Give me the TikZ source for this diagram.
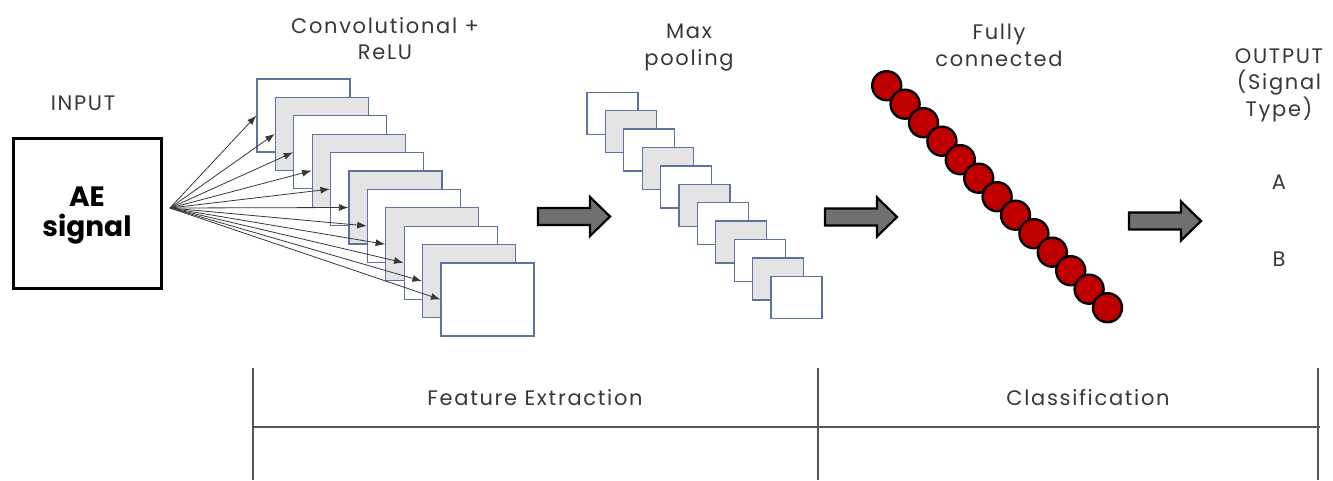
\documentclass[tikz,border=0pt]{standalone}
\usepackage{fontspec}
\setmainfont{Poppins}
\newfontfamily\lblfont[LetterSpace=8]{Poppins}
\usetikzlibrary{arrows.meta}
\definecolor{txtgray}{HTML}{383838}
\definecolor{mapedge}{HTML}{5F729E}
\definecolor{mapfill}{HTML}{E4E4E4}
\definecolor{neuronred}{HTML}{C00000}
\definecolor{arrowgray}{HTML}{707070}
\definecolor{tablegray}{HTML}{555555}
\tikzset{
  lbl/.style={font=\lblfont\fontsize{21}{26.5}\selectfont, text=txtgray, align=center, inner sep=0pt},
  inbox/.style={draw=black, line width=3pt, minimum width=148pt, minimum height=150pt, inner sep=0pt},
  aetext/.style={align=center, inner sep=0pt, font=\fontsize{28}{30}\selectfont\bfseries, text=black},
  convmap/.style={draw=mapedge, line width=1.3pt, minimum width=93pt, minimum height=73pt, inner sep=0pt},
  poolmap/.style={draw=mapedge, line width=1.3pt, minimum width=51pt, minimum height=42pt, inner sep=0pt},
  whitemap/.style={fill=white},
  graymap/.style={fill=mapfill},
  neuron/.style={circle, draw=black, line width=2.4pt, fill=neuronred, minimum size=29pt, inner sep=0pt},
  fanarrow/.style={draw=txtgray, line width=0.8pt, -{Latex[length=9.5pt,width=7pt]}},
  bigarrow/.style={draw=black, line width=2.2pt, fill=arrowgray, line join=miter},
  tableline/.style={draw=tablegray, line width=1.1pt},
}
\newcommand{\stagearrow}[2]{%
  \draw[bigarrow] (#1,#2) ++(0,-8.5) -- ++(52,0) -- ++(0,-11) -- ++(20,19.5) -- ++(-20,19.5) -- ++(0,-11) -- ++(-52,0) -- cycle;}
\begin{document}
\begin{tikzpicture}[x=1pt,y=-1pt]
\useasboundingbox (0,0) rectangle (1333,480);

% labels
\node[lbl, anchor=north] (linput) at (83,96) {INPUT};
\node[lbl, anchor=north] (lconv) at (385,17) {Convolutional +\\ReLU};
\node[lbl, anchor=north] (lpool) at (689,24) {Max\\pooling};
\node[lbl, anchor=north] (lfc) at (999,24) {Fully\\connected};
\node[lbl, anchor=north] (lout) at (1279,48) {OUTPUT\\(Signal\\Type)};
\node[lbl] (oa) at (1279,182) {A};
\node[lbl] (ob) at (1279,259) {B};

% input
\node[inbox] (in) at (87,213) {};
\node[aetext] (ae) at (87,216) {AE\\signal};
\coordinate (fan) at (170,208);

% convolution maps
\foreach \i in {0,...,10}{
  \pgfmathsetmacro{\cx}{303.5+18.4*\i}
  \pgfmathsetmacro{\cy}{115.5+18.4*\i}
  \ifodd\i
    \node[convmap, graymap] (c\i) at (\cx,\cy) {};
  \else
    \node[convmap, whitemap] (c\i) at (\cx,\cy) {};
  \fi
}
\foreach \i in {0,...,10}{
  \draw[fanarrow] (fan) -- (c\i.west);
}

% pooling maps
\foreach \i in {0,...,10}{
  \pgfmathsetmacro{\px}{612.5+18.4*\i}
  \pgfmathsetmacro{\py}{113.3+18.4*\i}
  \ifodd\i
    \node[poolmap, graymap] (p\i) at (\px,\py) {};
  \else
    \node[poolmap, whitemap] (p\i) at (\px,\py) {};
  \fi
}

% fully connected neurons
\foreach \i in {0,...,12}{
  \node[neuron] (f\i) at (886.7+18.4*\i, 85.7+18.5*\i) {};
}

% stage arrows
\stagearrow{538}{216.5}
\stagearrow{825}{217}
\stagearrow{1129}{221}

% bottom table
\coordinate (t1) at (253,368);
\coordinate (t2) at (818,368);
\coordinate (t3) at (1318,368);
\draw[tableline] (t1) -- (253,480);
\draw[tableline] (t2) -- (818,480);
\draw[tableline] (t3) -- (1318,480);
\draw[tableline] (253,427) -- (1320,427);
\node[lbl] (fe) at (535,398) {Feature Extraction};
\node[lbl] (cl) at (1088,398) {Classification};
\end{tikzpicture}
\end{document}
